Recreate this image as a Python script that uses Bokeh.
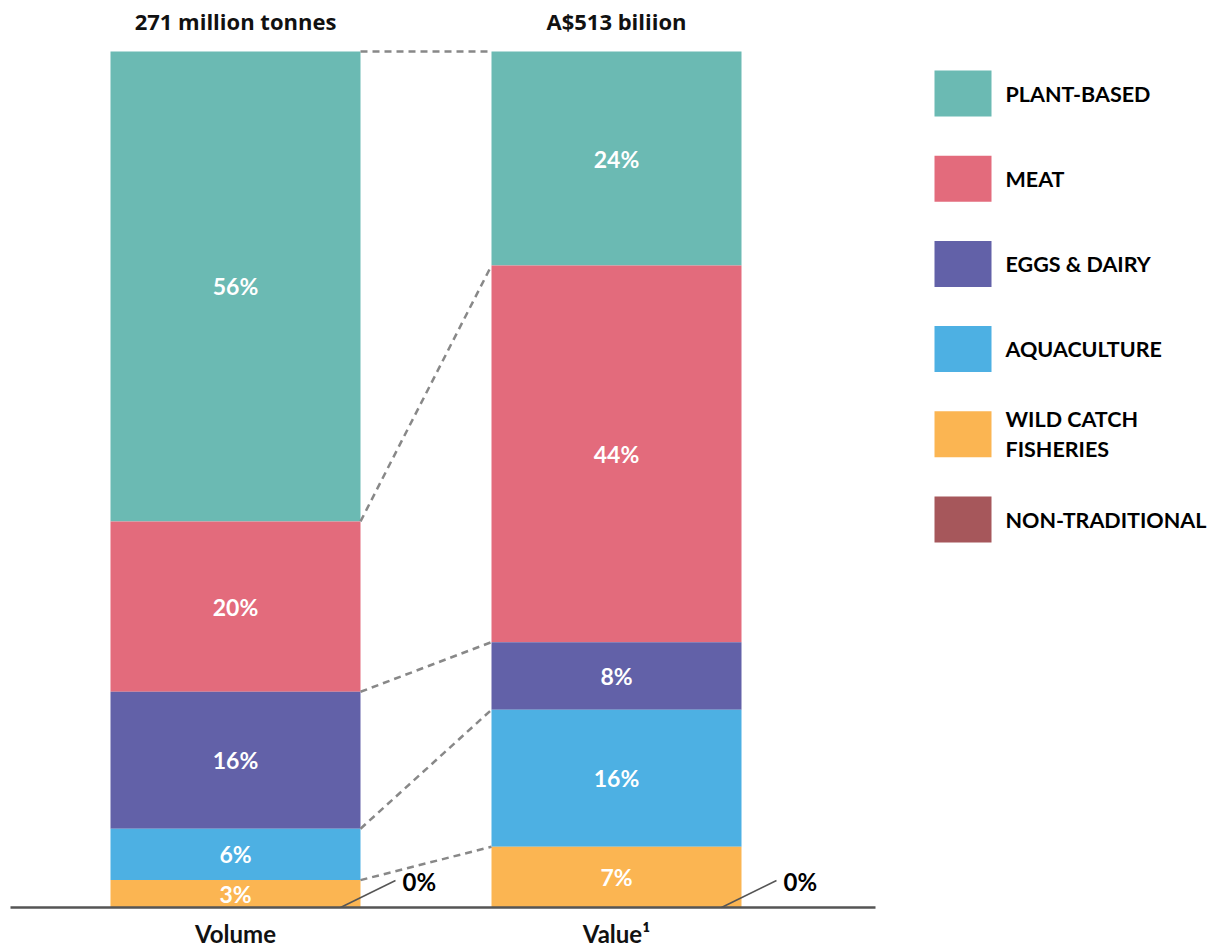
from bokeh.plotting import figure
from bokeh.models import Range1d, ColumnDataSource
from bokeh.core.properties import value
from bokeh.embed import file_html
from bokeh.resources import INLINE

# ---- data ----
categories = ["PLANT-BASED", "MEAT", "EGGS & DAIRY", "AQUACULTURE", "WILD CATCH\nFISHERIES", "NON-TRADITIONAL"]
colors = ["#6bbab3", "#e36b7c", "#6261a8", "#4db0e3", "#fbb552", "#a6575b"]
bars = ["Volume", "Value¹"]
bar_titles = ["271 million tonnes", "A$513 biliion"]
volume_share = [54.9, 19.9, 16.0, 6.0, 3.2, 0.0]
value_share = [25.0, 44.0, 7.9, 16.0, 7.1, 0.0]
volume_labels = ["56%", "20%", "16%", "6%", "3%", "0%"]
value_labels = ["24%", "44%", "8%", "16%", "7%", "0%"]

FONT = value("Lato")

# layout helpers
unit_x = 381.0          # px per x unit
unit_y = 8.56           # px per y unit
W, H = 1217, 949
x0_px, base_px = 235.0, 907.0
bar_w = 250.0 / unit_x

p = figure(width=W, height=H, output_backend="svg", toolbar_location=None,
           x_range=Range1d(-x0_px / unit_x, (W - x0_px) / unit_x),
           y_range=Range1d(-(H - base_px) / unit_y, base_px / unit_y),
           min_border=0, min_border_left=0, min_border_right=0,
           min_border_top=0, min_border_bottom=0)
p.axis.visible = False
p.grid.visible = False
p.outline_line_color = None
p.background_fill_color = "white"
p.border_fill_color = "white"

positions = [0.0, 1.0]
series = [volume_share, value_share]
labels = [volume_labels, value_labels]
cum_tops = []

for xi, shares, labs in zip(positions, series, labels):
    acc = 0.0
    b = [0.0] * len(shares)
    t = [0.0] * len(shares)
    for i in reversed(range(len(shares))):
        b[i] = acc
        acc += shares[i]
        t[i] = acc
    cum_tops.append((b, t))
    src = ColumnDataSource(dict(x=[xi] * len(shares), bottom=b, top=t, color=colors))
    p.vbar(x="x", bottom="bottom", top="top", width=bar_w, fill_color="color",
           line_color=None, source=src)
    lx, ly, lt = [], [], []
    for i, s in enumerate(shares):
        if s > 0:
            lx.append(xi)
            ly.append((b[i] + t[i]) / 2)
            lt.append(labs[i])
    p.text(x=lx, y=ly, text=lt, text_align="center", text_baseline="middle",
           text_color="white", text_font=FONT, text_font_style="bold",
           text_font_size="23px")
    right = xi + bar_w / 2
    p.segment(x0=[right - 20 / unit_x], y0=[0], x1=[right + 35 / unit_x], y1=[27 / unit_y],
              line_color="#555555", line_width=1.5)
    p.text(x=[right + 42 / unit_x], y=[26 / unit_y], text=[labs[-1]], text_align="left",
           text_baseline="middle", text_color="black", text_font=FONT,
           text_font_style="bold", text_font_size="24px")

# dashed connectors between boundaries
(bv, tv), (bw, tw) = cum_tops
xs0, ys0, xs1, ys1 = [], [], [], []
for i in range(len(categories) - 1):
    if volume_share[i] > 0:
        xs0.append(positions[0] + bar_w / 2)
        ys0.append(tv[i])
        xs1.append(positions[1] - bar_w / 2)
        ys1.append(tw[i])
p.segment(x0=xs0, y0=ys0, x1=xs1, y1=ys1, line_color="#888888",
          line_width=2.5, line_dash="7 5")

# baseline
p.segment(x0=[-225 / unit_x], y0=[0], x1=[640 / unit_x], y1=[0],
          line_color="#555555", line_width=2.5)

# titles and axis labels
p.text(x=positions, y=[887 / unit_y] * 2, text=bar_titles, text_align="center",
       text_baseline="middle", text_color="#111111", text_font=value("Open Sans"),
       text_font_style="bold", text_font_size="22px")
p.text(x=positions, y=[-26 / unit_y] * 2, text=bars, text_align="center",
       text_baseline="middle", text_color="#111111", text_font=FONT,
       text_font_style="bold", text_font_size="24px")

# legend
lg_x = (962.5 - x0_px) / unit_x
lg_w = 57 / unit_x
lg_h = 46 / unit_y
lg_y0 = (base_px - 93) / unit_y
lg_step = 85.2 / unit_y
ly = [lg_y0 - i * lg_step for i in range(len(categories))]
p.rect(x=[lg_x] * len(categories), y=ly, width=lg_w, height=lg_h,
       fill_color=colors, line_color=None)
p.text(x=[(1005 - x0_px) / unit_x] * len(categories), y=ly, text=categories,
       text_align="left", text_baseline="middle", text_color="black",
       text_font=FONT, text_font_style="bold", text_font_size="21.5px",
       text_line_height=1.15)

open("out.html", "w").write(file_html(p, INLINE))
